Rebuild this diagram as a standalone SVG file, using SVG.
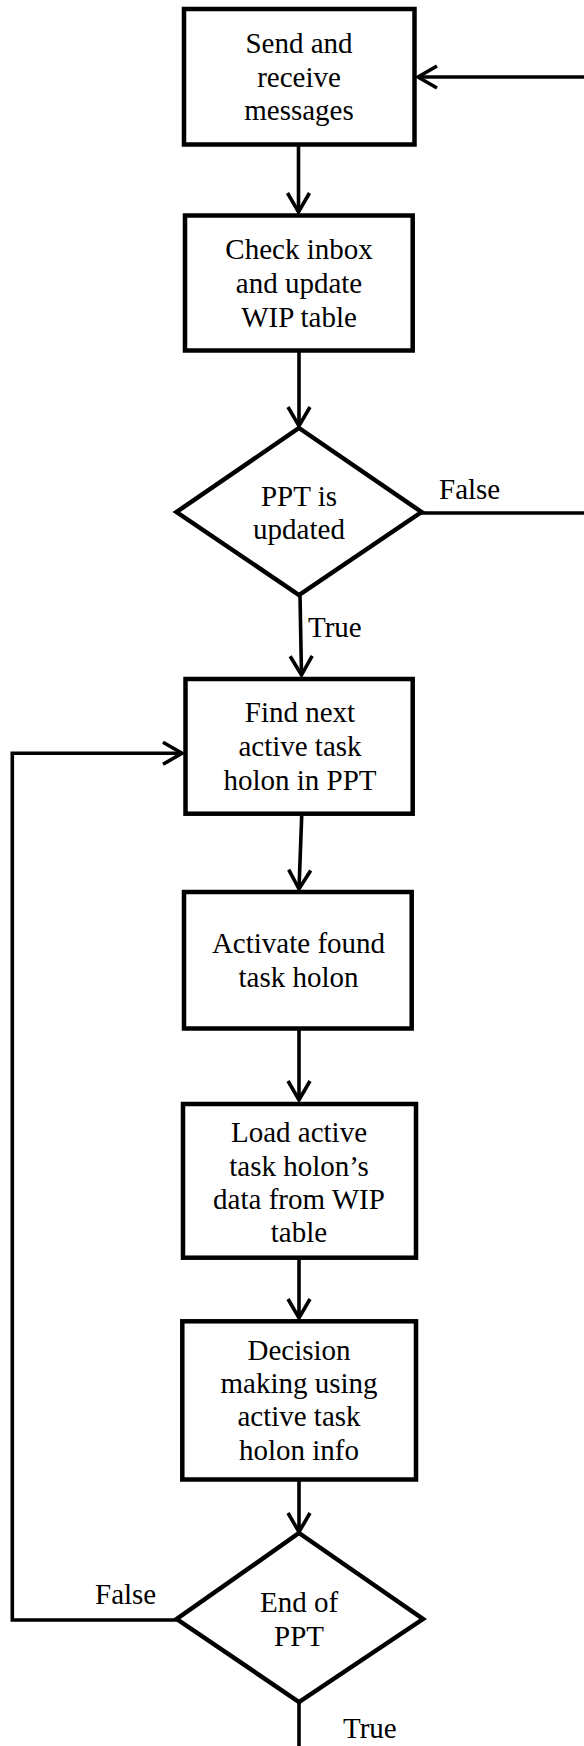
<svg xmlns="http://www.w3.org/2000/svg" width="584" height="1746" viewBox="0 0 584 1746">
  <style>
    .box { fill: #ffffff; stroke: #000000; stroke-width: 4.5; }
    .link { fill: none; stroke: #000000; stroke-width: 3.6; }
    .lbl { font-family: "Liberation Serif", "Times New Roman", serif; font-size: 29px; fill: #000000; }
    .ctr { text-anchor: middle; }
  </style>
  <defs>
    <marker id="chev" markerUnits="userSpaceOnUse" markerWidth="30" markerHeight="30" refX="0" refY="0" viewBox="-24 -15 30 30" orient="auto" overflow="visible">
      <path d="M -19 -11 L 0 0 L -19 11" fill="none" stroke="#000000" stroke-width="3.6"/>
    </marker>
  </defs>
  <rect width="584" height="1746" fill="#ffffff"/>

  <!-- connectors -->
  <g id="connectors">
    <line class="link" x1="584" y1="77" x2="418" y2="77" marker-end="url(#chev)"/>
    <line class="link" x1="298.5" y1="146" x2="298.5" y2="212" marker-end="url(#chev)"/>
    <line class="link" x1="299" y1="352" x2="299" y2="426" marker-end="url(#chev)"/>
    <line class="link" x1="421" y1="513" x2="584" y2="513"/>
    <line class="link" x1="300" y1="595" x2="301.5" y2="675" marker-end="url(#chev)"/>
    <line class="link" x1="301.7" y1="816" x2="299" y2="889" marker-end="url(#chev)"/>
    <line class="link" x1="299" y1="1030" x2="299" y2="1100" marker-end="url(#chev)"/>
    <line class="link" x1="299" y1="1259" x2="299" y2="1318" marker-end="url(#chev)"/>
    <line class="link" x1="299" y1="1481" x2="299" y2="1532" marker-end="url(#chev)"/>
    <polyline class="link" points="177,1620 12.3,1620 12.3,753.3 182,753.3" marker-end="url(#chev)"/>
    <line class="link" x1="299" y1="1701" x2="299" y2="1746"/>
  </g>

  <!-- process steps -->
  <g id="send-receive">
    <rect class="box" x="184" y="9" width="230.5" height="135.5"/>
    <text class="lbl ctr" x="299" y="53">Send and</text>
    <text class="lbl ctr" x="299" y="87">receive</text>
    <text class="lbl ctr" x="299" y="120">messages</text>
  </g>

  <g id="check-inbox">
    <rect class="box" x="185" y="215.5" width="227.7" height="135"/>
    <text class="lbl ctr" x="299" y="259">Check inbox</text>
    <text class="lbl ctr" x="299" y="293">and update</text>
    <text class="lbl ctr" x="299" y="327">WIP table</text>
  </g>

  <g id="ppt-updated">
    <polygon class="box" points="299,428 421.5,512 299,595 176.5,512"/>
    <text class="lbl ctr" x="299" y="506">PPT is</text>
    <text class="lbl ctr" x="299" y="539">updated</text>
    <text class="lbl" x="439" y="499">False</text>
    <text class="lbl" x="308" y="637">True</text>
  </g>

  <g id="find-next">
    <rect class="box" x="185.5" y="679" width="227.2" height="134.7"/>
    <text class="lbl ctr" x="300" y="722">Find next</text>
    <text class="lbl ctr" x="300" y="756">active task</text>
    <text class="lbl ctr" x="300" y="790">holon in PPT</text>
  </g>

  <g id="activate">
    <rect class="box" x="184" y="892" width="227.7" height="136.5"/>
    <text class="lbl ctr" x="298.5" y="953">Activate found</text>
    <text class="lbl ctr" x="298.5" y="987">task holon</text>
  </g>

  <g id="load-data">
    <rect class="box" x="183" y="1104" width="233" height="153.7"/>
    <text class="lbl ctr" x="299" y="1142">Load active</text>
    <text class="lbl ctr" x="299" y="1176">task holon’s</text>
    <text class="lbl ctr" x="299" y="1209">data from WIP</text>
    <text class="lbl ctr" x="299" y="1242">table</text>
  </g>

  <g id="decision">
    <rect class="box" x="182.3" y="1321.3" width="233.7" height="158.2"/>
    <text class="lbl ctr" x="299" y="1360">Decision</text>
    <text class="lbl ctr" x="299" y="1393">making using</text>
    <text class="lbl ctr" x="299" y="1426">active task</text>
    <text class="lbl ctr" x="299" y="1460">holon info</text>
  </g>

  <g id="end-of-ppt">
    <polygon class="box" points="299,1533 423,1619 299,1702 176.7,1619"/>
    <text class="lbl ctr" x="299" y="1612">End of</text>
    <text class="lbl ctr" x="299" y="1646">PPT</text>
    <text class="lbl" x="95" y="1604">False</text>
    <text class="lbl" x="343" y="1738">True</text>
  </g>
</svg>
